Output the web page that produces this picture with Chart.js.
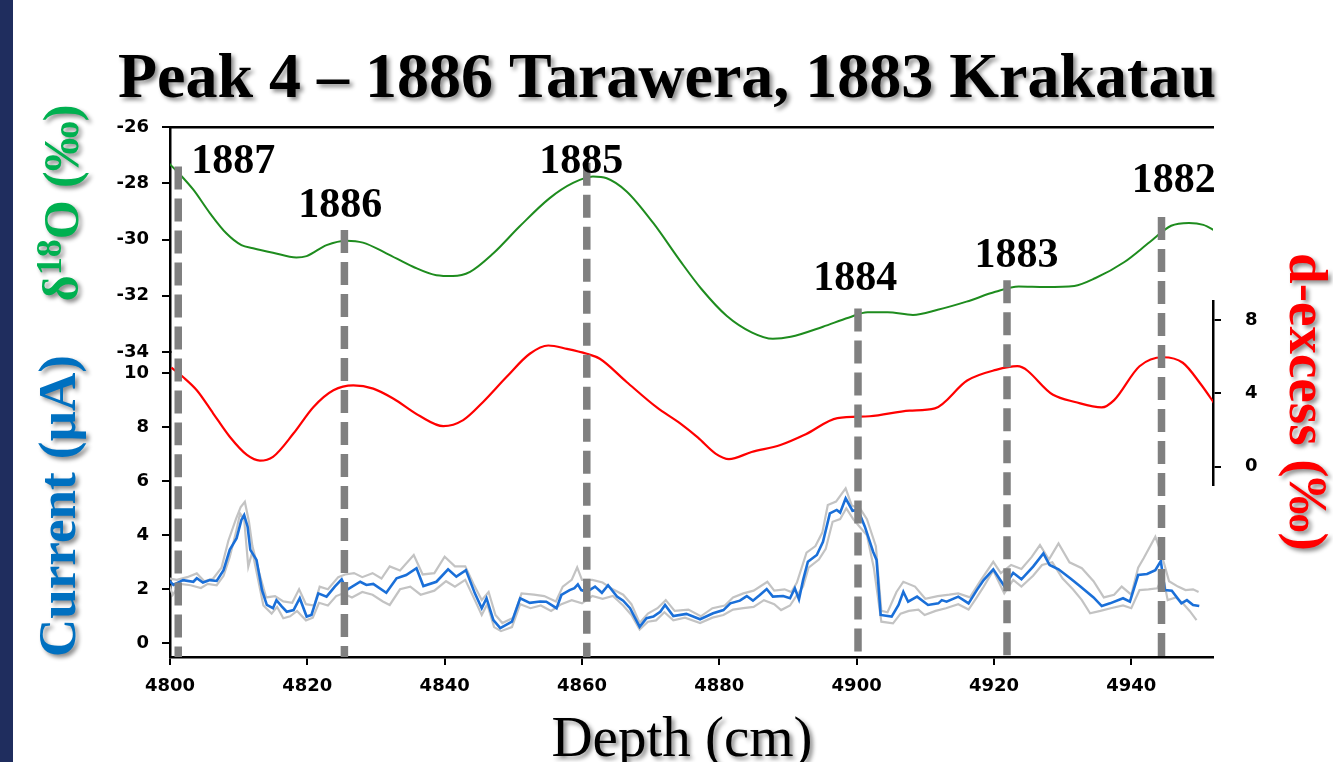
<!DOCTYPE html>
<html>
<head>
<meta charset="utf-8">
<script src="https://cdn.jsdelivr.net/npm/chart.js@4.4.1/dist/chart.umd.min.js"></script>
<style>
  html, body { margin: 0; padding: 0; background: #ffffff; }
  #wrap { position: relative; width: 1333px; height: 762px; overflow: hidden; }
  #stripe { position: absolute; left: 0; top: 0; width: 13px; height: 762px; background: #1f2d5e; }
  canvas { position: absolute; left: 0; top: 0; }
</style>
</head>
<body>
<div id="wrap"><div id="stripe"></div><canvas id="c" width="1333" height="762"></canvas></div>
<script>
// ---------------- data ----------------
const xMin = 4800, xMax = 4951.9;
const xTickValues = [4800, 4820, 4840, 4860, 4880, 4900, 4920, 4940];
const o18Ticks = [-34, -32, -30, -28, -26];
const currentTicks = [0, 2, 4, 6, 8, 10];
const dexTicks = [0, 4, 8];

// delta 18O (per mil)
const o18Depth = [4799.8,4801.5,4803.4,4805.8,4808.2,4810.4,4812.1,4815.0,4818.4,4819.9,4822.8,4825.7,4828.1,4831.5,4835.4,4838.8,4841.2,4843.7,4847.1,4850.9,4855.3,4858.7,4861.6,4863.6,4866.5,4870.4,4874.3,4877.4,4881.1,4884.7,4887.8,4890.4,4895.1,4898.8,4901.6,4904.5,4908.2,4911.8,4916.0,4920.2,4923.6,4927.5,4931.7,4934.8,4939.0,4942.7,4945.8,4948.4,4950.5,4952.4];
const o18Values = [-27.28,-27.70,-28.23,-29.06,-29.78,-30.20,-30.31,-30.47,-30.64,-30.59,-30.20,-30.04,-30.11,-30.49,-30.97,-31.27,-31.30,-31.15,-30.49,-29.54,-28.53,-27.99,-27.76,-27.82,-28.29,-29.42,-30.76,-31.76,-32.72,-33.30,-33.53,-33.46,-33.10,-32.78,-32.59,-32.59,-32.68,-32.50,-32.21,-31.86,-31.67,-31.69,-31.65,-31.37,-30.80,-30.09,-29.51,-29.41,-29.48,-29.72];

// d-excess (per mil)
const dexDepth = [4800.2,4801.9,4803.9,4806.3,4808.7,4811.2,4813.1,4815.0,4818.0,4820.9,4823.8,4826.7,4829.6,4832.5,4836.4,4839.8,4842.7,4845.6,4849.0,4852.4,4855.1,4857.8,4860.7,4862.6,4866.5,4870.9,4874.3,4876.9,4879.5,4881.4,4884.7,4888.9,4892.6,4897.2,4901.9,4907.7,4911.4,4916.1,4920.3,4923.4,4928.6,4931.8,4935.7,4937.5,4941.2,4944.6,4947.5,4950.1,4952.5];
const dexValues = [5.40,4.89,4.17,2.90,1.63,0.64,0.33,0.54,1.82,3.26,4.17,4.44,4.26,3.72,2.76,2.21,2.54,3.53,4.89,6.16,6.61,6.43,6.16,5.89,4.62,3.23,2.36,1.58,0.70,0.41,0.80,1.18,1.77,2.65,2.75,3.06,3.18,4.70,5.28,5.48,3.92,3.53,3.23,3.63,5.48,5.97,5.67,4.51,3.23];

// current (uA), mean
const curDepth = [4799.8,4800.5,4801.9,4803.4,4803.9,4804.8,4805.8,4806.8,4807.8,4808.7,4809.7,4810.4,4810.8,4811.3,4811.7,4812.6,4813.4,4814.1,4815.0,4815.5,4816.3,4817.0,4818.0,4818.9,4819.9,4820.6,4821.6,4822.8,4824.0,4825.0,4825.7,4827.7,4828.6,4829.6,4831.5,4833.0,4834.4,4835.9,4836.9,4838.8,4840.5,4841.7,4843.1,4844.4,4845.4,4846.1,4847.1,4848.1,4849.8,4851.0,4852.4,4853.9,4854.8,4856.3,4857.0,4858.2,4858.9,4859.4,4859.9,4860.7,4861.9,4862.9,4863.8,4865.1,4866.0,4867.0,4868.4,4869.4,4870.4,4871.4,4872.1,4873.3,4875.2,4877.2,4879.1,4880.6,4881.6,4883.0,4884.0,4884.9,4885.9,4886.9,4887.8,4889.3,4890.3,4891.0,4891.6,4892.2,4892.9,4894.2,4895.1,4896.1,4897.1,4897.6,4898.4,4899.4,4900.2,4901.2,4902.4,4902.9,4903.5,4905.1,4906.1,4906.8,4907.5,4908.8,4910.4,4911.9,4912.4,4913.1,4914.8,4916.3,4917.5,4918.5,4919.9,4921.5,4922.8,4924.0,4925.7,4927.2,4928.1,4929.4,4931.1,4932.5,4934.5,4935.7,4936.9,4938.8,4939.8,4941.0,4942.3,4943.5,4944.3,4944.9,4945.9,4947.3,4948.1,4949.0,4949.9];
const curValues = [2.34,2.16,2.34,2.28,2.41,2.25,2.34,2.31,2.71,3.46,3.89,4.57,4.75,4.32,3.46,3.09,1.97,1.42,1.30,1.60,1.36,1.17,1.23,1.67,0.99,1.05,1.85,1.73,2.10,2.37,1.97,2.28,2.16,2.20,1.87,2.41,2.53,2.78,2.12,2.28,2.74,2.47,2.71,1.85,1.30,1.67,0.86,0.56,0.80,1.67,1.50,1.55,1.54,1.30,1.79,1.97,2.04,2.18,1.97,1.91,2.10,1.87,2.15,1.73,1.58,1.30,0.61,0.93,0.99,1.17,1.42,1.01,1.09,0.89,1.11,1.23,1.48,1.58,1.75,1.58,1.79,2.01,1.73,1.75,1.67,2.04,1.63,2.34,3.02,3.27,3.76,4.81,4.94,4.84,5.37,4.91,4.94,4.32,3.39,3.09,1.05,0.99,1.42,1.91,1.54,1.73,1.42,1.48,1.60,1.54,1.73,1.48,1.97,2.34,2.74,2.12,2.61,2.37,2.84,3.33,2.90,2.74,2.41,2.12,1.70,1.38,1.48,1.67,1.54,2.53,2.57,2.71,3.05,1.97,1.95,1.48,1.60,1.42,1.38];

// current (uA), replicate A (grey)
const grayADepth = [4799.8,4801.0,4802.5,4803.9,4805.0,4806.3,4807.5,4808.5,4809.6,4810.3,4810.9,4811.5,4812.0,4813.0,4814.0,4815.3,4816.5,4817.8,4818.8,4819.8,4821.0,4821.8,4823.0,4824.5,4825.5,4826.8,4828.0,4829.5,4830.8,4832.0,4833.5,4835.5,4836.8,4838.5,4840.0,4841.5,4843.0,4844.2,4845.4,4846.4,4847.4,4848.4,4850.0,4851.2,4853.0,4854.5,4856.2,4857.2,4858.5,4859.3,4860.0,4861.5,4863.0,4864.5,4866.0,4867.2,4868.4,4869.6,4871.0,4872.2,4873.5,4875.5,4877.3,4879.0,4880.8,4882.0,4883.5,4885.0,4887.0,4888.0,4889.5,4890.5,4891.3,4892.7,4894.0,4895.0,4895.8,4897.0,4898.4,4899.3,4900.5,4901.5,4902.8,4903.6,4904.5,4905.8,4906.8,4908.5,4910.0,4911.8,4913.5,4914.8,4916.5,4918.0,4919.9,4921.0,4922.5,4924.0,4925.5,4926.7,4928.0,4929.4,4931.0,4932.8,4934.5,4936.0,4937.5,4938.6,4940.0,4941.0,4941.8,4943.5,4944.4,4945.5,4946.8,4947.9,4949.0,4949.8];
const grayAValues = [2.40,2.35,2.45,2.59,2.30,2.40,2.80,3.80,4.60,5.05,5.24,4.50,3.60,2.60,1.70,1.75,1.55,1.50,2.00,1.45,1.40,2.10,2.00,2.45,2.55,2.60,2.45,2.60,2.40,2.85,2.70,3.27,2.55,2.60,3.21,2.85,2.85,2.20,1.60,1.90,1.05,0.75,0.95,1.85,1.80,1.75,1.55,2.10,2.35,2.81,2.35,2.35,2.25,2.00,1.80,1.45,0.75,1.10,1.30,1.60,1.20,1.25,1.00,1.30,1.40,1.70,1.85,1.95,2.28,1.95,2.00,1.90,2.25,3.36,3.60,4.10,5.12,5.25,5.74,5.10,5.00,4.60,3.60,1.20,1.15,1.90,2.28,2.10,1.65,1.75,1.80,1.85,1.70,2.30,3.02,2.60,2.90,2.75,3.20,3.64,3.10,3.70,3.00,2.78,2.30,1.70,1.80,2.10,1.80,2.80,3.15,3.95,3.30,2.30,2.10,1.97,2.00,1.90];

// current (uA), replicate B (grey)
const grayBDepth = [4799.8,4800.4,4801.5,4803.0,4804.5,4805.5,4806.8,4807.8,4808.7,4809.6,4810.2,4810.8,4811.4,4812.0,4812.8,4813.6,4814.8,4815.6,4816.5,4817.5,4818.5,4819.8,4820.8,4821.7,4823.0,4824.2,4825.2,4826.5,4828.0,4829.5,4831.0,4832.0,4833.5,4835.0,4836.5,4838.5,4840.2,4841.5,4843.0,4844.4,4845.4,4846.2,4847.2,4848.2,4849.8,4851.0,4852.5,4854.0,4855.5,4857.0,4858.5,4860.0,4861.5,4863.0,4864.5,4866.0,4867.2,4868.4,4869.6,4870.8,4872.0,4873.3,4875.0,4877.2,4879.0,4880.6,4882.0,4883.5,4885.0,4886.5,4888.0,4889.0,4890.3,4891.2,4892.2,4893.0,4894.5,4895.5,4896.5,4897.6,4898.5,4899.5,4900.5,4901.5,4902.5,4903.6,4905.3,4906.4,4907.6,4909.0,4909.9,4911.5,4913.0,4914.8,4916.3,4917.5,4918.5,4919.9,4921.5,4922.8,4924.0,4925.7,4927.0,4928.5,4930.0,4931.5,4932.8,4934.0,4935.5,4937.0,4938.8,4940.0,4941.2,4942.5,4943.8,4944.6,4945.3,4946.5,4947.5,4948.5,4949.5];
const grayBValues = [2.20,1.79,2.20,2.15,2.05,2.20,2.15,2.50,3.20,4.10,4.81,4.60,2.84,3.40,2.40,1.40,1.10,1.35,0.93,1.00,1.20,0.85,0.95,1.50,1.40,1.75,1.85,1.70,1.90,1.80,1.55,1.42,2.00,2.10,1.80,1.95,2.30,2.10,2.35,1.60,1.05,1.45,0.60,0.45,0.60,1.45,1.30,1.40,1.20,1.45,1.60,1.48,1.75,1.65,1.75,1.40,1.05,0.51,0.80,0.85,1.15,0.85,0.95,0.75,0.95,1.05,1.25,1.30,1.35,1.60,1.45,1.23,1.40,1.75,2.10,2.80,3.10,3.50,4.50,4.60,5.00,4.60,4.30,4.00,2.80,0.80,0.74,1.10,1.20,1.25,1.05,1.20,1.30,1.45,1.25,1.70,2.10,2.70,1.85,2.35,2.10,2.50,2.90,3.00,2.40,2.00,1.60,1.11,1.20,1.30,1.40,1.30,1.97,2.00,2.04,2.50,1.60,1.70,1.48,1.20,0.86];

// year markers (dashed lines) and their labels
const markerYears = ['1887', '1886', '1885', '1884', '1883', '1882'];
const markerDepth = [4801.2, 4825.4, 4860.7, 4900.2, 4921.9, 4944.4];
const markerTopO18 = [-27.40, -29.66, -27.27, -32.45, -31.45, -29.20];
const labelDepth = [4809.2, 4824.8, 4859.9, 4899.8, 4923.3, 4946.2];
const labelO18 = [-27.63, -29.20, -27.63, -31.80, -30.98, -28.30];

// ---------------- chart ----------------
const pts = (xs, ys) => xs.map((x, i) => ({ x: x, y: ys[i] }));
const tickFont = { family: 'DejaVu Sans', weight: 'bold', size: 18 };
const setTicks = (arr) => (scale) => { scale.ticks = arr.map(v => ({ value: v })); };
const plainLabel = (v) => String(v);

const textPlugin = {
  id: 'texts',
  afterDatasetsDraw(chart) {
    const ctx = chart.ctx;
    const xs = chart.scales.x, yO = chart.scales.yO;
    ctx.save();
    ctx.strokeStyle = '#808080';
    ctx.lineWidth = 7.5;
    ctx.setLineDash([23, 9]);
    ctx.lineCap = 'butt';
    markerDepth.forEach((d, i) => {
      const px = xs.getPixelForValue(d);
      ctx.beginPath();
      ctx.moveTo(px, yO.getPixelForValue(markerTopO18[i]));
      ctx.lineTo(px, chart.chartArea.bottom);
      ctx.stroke();
    });
    ctx.setLineDash([]);
    ctx.fillStyle = '#000';
    ctx.font = 'bold 42px "Liberation Serif"';
    ctx.textAlign = 'center';
    ctx.textBaseline = 'alphabetic';
    markerYears.forEach((t, i) => {
      ctx.fillText(t, xs.getPixelForValue(labelDepth[i]), yO.getPixelForValue(labelO18[i]));
    });
    ctx.restore();
  },
  afterDraw(chart) {
    const ctx = chart.ctx;
    ctx.save();
    ctx.shadowColor = 'rgba(0,0,0,0.45)';
    ctx.shadowBlur = 4;
    ctx.shadowOffsetX = 3;
    ctx.shadowOffsetY = 3;
    ctx.textBaseline = 'alphabetic';

    // main title
    ctx.fillStyle = '#000';
    ctx.font = 'bold 64px "Liberation Serif"';
    ctx.textAlign = 'center';
    ctx.fillText('Peak 4 \u2013 1886 Tarawera, 1883 Krakatau', 667, 97);

    // x axis title
    ctx.font = '57px "Liberation Serif"';
    ctx.fillText('Depth (cm)', 682, 756);

    // delta 18O title (rotated, with superscript)
    ctx.save();
    ctx.translate(78, 203);
    ctx.rotate(-Math.PI / 2);
    ctx.fillStyle = '#00b050';
    ctx.textAlign = 'left';
    const big = 'bold 50px "Liberation Serif"', small = 'bold 36px "Liberation Serif"';
    ctx.font = big; const w1 = ctx.measureText('\u03b4').width;
    ctx.font = small; const w2 = ctx.measureText('18').width;
    ctx.font = big; const w3 = ctx.measureText('O (\u2030)').width;
    let sx = -(w1 + w2 + w3) / 2;
    ctx.font = big; ctx.fillText('\u03b4', sx, 0);
    ctx.font = small; ctx.fillText('18', sx + w1, -17);
    ctx.font = big; ctx.fillText('O (\u2030)', sx + w1 + w2, 0);
    ctx.restore();

    // current title
    ctx.save();
    ctx.translate(75, 506);
    ctx.rotate(-Math.PI / 2);
    ctx.fillStyle = '#0070c0';
    ctx.textAlign = 'center';
    ctx.font = 'bold 53px "Liberation Serif"';
    ctx.fillText('Current (\u00b5A)', 0, 0);
    ctx.restore();

    // d-excess title
    ctx.save();
    ctx.translate(1290, 402);
    ctx.rotate(Math.PI / 2);
    ctx.fillStyle = '#ff0000';
    ctx.textAlign = 'center';
    ctx.font = 'bold 55px "Liberation Serif"';
    ctx.fillText('d-excess (\u2030)', 0, 0);
    ctx.restore();

    ctx.restore();
  }
};

const hiddenAxis = (weight) => ({
  type: 'linear', position: 'right', stack: 'right', stackWeight: weight,
  min: 0, max: 1,
  grid: { display: false }, border: { display: false }, ticks: { display: false },
  afterFit: (s) => { s.width = 120; }
});

new Chart(document.getElementById('c'), {
  type: 'line',
  data: {
    datasets: [
      { label: 'Current', data: pts(curDepth, curValues), yAxisID: 'yC', borderColor: '#1a6fd8', borderWidth: 2.6, pointRadius: 0, tension: 0, order: 1 },
      { label: 'Current A', data: pts(grayADepth, grayAValues), yAxisID: 'yC', borderColor: '#c3c3c3', borderWidth: 2.2, pointRadius: 0, tension: 0, order: 2 },
      { label: 'Current B', data: pts(grayBDepth, grayBValues), yAxisID: 'yC', borderColor: '#c3c3c3', borderWidth: 2.2, pointRadius: 0, tension: 0, order: 3 },
      { label: 'd-excess', data: pts(dexDepth, dexValues), yAxisID: 'yD', borderColor: '#ff0000', borderWidth: 2.2, pointRadius: 0, cubicInterpolationMode: 'monotone', order: 4 },
      { label: 'd18O', data: pts(o18Depth, o18Values), yAxisID: 'yO', borderColor: '#1e8c1e', borderWidth: 2, pointRadius: 0, cubicInterpolationMode: 'monotone', order: 5 }
    ]
  },
  options: {
    responsive: false,
    animation: false,
    devicePixelRatio: 1,
    layout: { padding: { left: 90, right: 0, top: 127, bottom: 0 } },
    plugins: { legend: { display: false }, tooltip: { enabled: false }, title: { display: false } },
    scales: {
      x: {
        type: 'linear', position: 'bottom', min: xMin, max: xMax,
        afterBuildTicks: setTicks(xTickValues),
        grid: { drawOnChartArea: false, drawTicks: true, tickLength: 8, color: '#000', lineWidth: 2 },
        border: { display: true, color: '#000', width: 2.5 },
        ticks: { font: tickFont, color: '#000', padding: 11, maxRotation: 0, callback: plainLabel },
        afterFit: (s) => { s.height = 105; }
      },
      xTop: {
        type: 'linear', position: 'top', min: xMin, max: xMax,
        grid: { display: false }, ticks: { display: false },
        border: { display: true, color: '#000', width: 2.5 },
        afterFit: (s) => { s.height = 0; }
      },
      yC: {
        type: 'linear', position: 'left', stack: 'left', stackWeight: 305,
        min: -0.507, max: 10.789,
        afterBuildTicks: setTicks(currentTicks),
        grid: { drawOnChartArea: false, drawTicks: true, tickLength: 8, color: '#000', lineWidth: 2 },
        border: { display: true, color: '#000', width: 2.5 },
        ticks: { font: tickFont, color: '#000', padding: 13, callback: plainLabel },
        afterFit: (s) => { s.width = 80; }
      },
      yO: {
        type: 'linear', position: 'left', stack: 'left', stackWeight: 225,
        min: -34, max: -26,
        afterBuildTicks: setTicks(o18Ticks),
        grid: { drawOnChartArea: false, drawTicks: true, tickLength: 8, color: '#000', lineWidth: 2 },
        border: { display: true, color: '#000', width: 2.5 },
        ticks: { font: tickFont, color: '#000', padding: 13, callback: plainLabel },
        afterFit: (s) => { s.width = 80; }
      },
      yDTop: hiddenAxis(174.7),
      yD: {
        type: 'linear', position: 'right', stack: 'right', stackWeight: 183.3,
        min: -1, max: 9,
        afterBuildTicks: setTicks(dexTicks),
        grid: { drawOnChartArea: false, drawTicks: true, tickLength: 8, color: '#000', lineWidth: 2 },
        border: { display: true, color: '#000', width: 2.5 },
        ticks: { font: tickFont, color: '#000', padding: 24, callback: plainLabel },
        afterFit: (s) => { s.width = 120; }
      },
      yDBot: hiddenAxis(172)
    }
  },
  plugins: [textPlugin]
});
</script>
</body>
</html>
